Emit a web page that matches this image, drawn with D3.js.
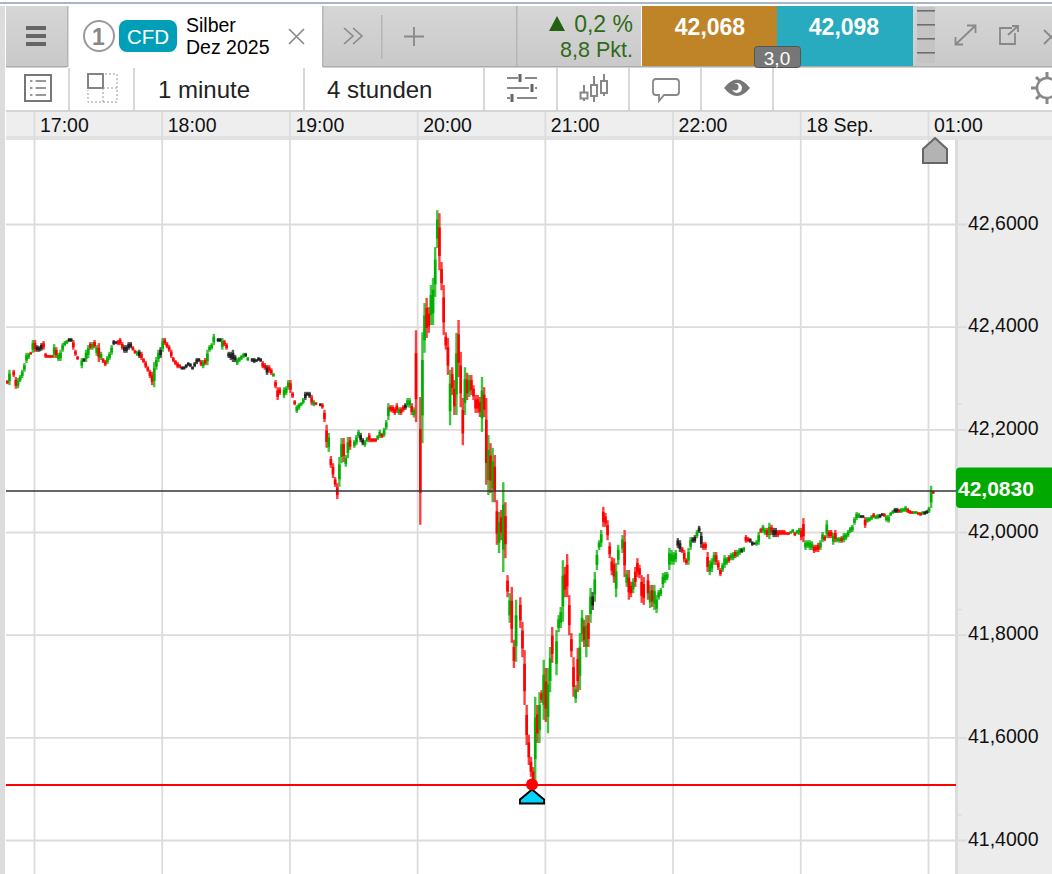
<!DOCTYPE html>
<html>
<head>
<meta charset="utf-8">
<title>Silber Dez 2025</title>
<script src="https://cdn.jsdelivr.net/npm/d3@7"></script>
<style>
  html, body { margin: 0; padding: 0; background: #fff; overflow: hidden; }
  svg { display: block; font-family: "Liberation Sans", Arial, sans-serif; }
  .axis-time path, .axis-time line, .axis-price path, .axis-price line { display: none; }
</style>
</head>
<body>
<div id="chart"></div>
<script>
// one candle per minute, first one is 13 minutes before 17:00
var firstMinute = -13;

var barHighs = [
  42.297,42.317,null,42.317,42.303,42.301,42.307,42.317,42.330,42.350,
  42.350,42.352,42.375,42.375,42.365,42.363,42.369,42.373,42.350,42.346,
  42.346,42.346,42.367,42.361,42.350,42.356,42.369,42.373,42.375,42.379,
  42.379,42.375,42.356,42.344,null,42.340,42.340,42.356,42.365,42.371,
  42.371,42.375,42.365,42.369,42.352,42.340,42.336,42.344,42.352,42.365,
  42.375,42.373,42.375,42.379,42.371,42.365,42.365,42.371,42.371,42.363,
  42.356,42.354,42.356,42.352,42.340,42.334,42.324,42.317,42.313,42.332,
  42.342,42.356,42.361,42.379,42.379,42.371,42.365,42.356,42.342,42.336,
  42.332,42.328,42.324,42.324,42.328,42.332,42.330,42.324,42.332,42.340,
  42.340,42.336,42.336,42.340,42.356,42.365,42.369,42.387,null,42.379,
  42.379,42.379,42.375,42.369,42.352,42.352,42.356,42.346,42.340,42.342,
  42.346,42.350,42.350,42.342,null,42.340,42.340,42.338,42.342,42.340,
  42.334,42.330,42.326,42.326,42.320,42.311,42.297,42.283,42.283,null,
  42.283,42.285,42.297,42.297,42.274,42.258,42.248,42.252,42.254,42.262,
  42.274,42.274,42.274,42.268,42.258,42.254,null,42.252,42.252,42.239,
  42.210,42.194,42.149,42.135,42.108,42.096,42.147,42.184,42.184,42.151,
  42.186,42.186,null,42.180,42.190,42.200,42.194,42.184,42.180,42.186,
  42.194,42.184,42.184,42.184,42.190,42.200,42.194,42.204,42.219,42.252,
  42.248,42.248,42.244,42.252,42.244,42.244,42.248,42.252,42.262,42.262,
  42.252,42.244,42.394,null,42.264,42.390,42.447,42.457,42.439,42.482,
  42.496,42.556,42.628,42.622,42.527,42.482,42.390,42.379,42.317,42.322,
  42.297,42.389,42.414,42.352,42.262,42.322,42.311,42.307,42.307,42.287,
  42.268,42.268,42.264,42.303,42.283,42.262,42.190,42.174,42.165,42.151,
  42.063,42.040,42.044,42.098,42.059,41.917,41.882,41.894,41.791,41.869,
  null,41.874,41.826,41.771,41.664,41.606,41.563,41.543,41.680,41.664,
  41.689,41.693,41.752,41.736,41.736,41.777,41.816,null,41.810,41.839,
  41.855,41.946,41.933,41.958,41.878,41.804,41.757,41.703,41.775,41.804,
  41.849,41.830,41.839,41.839,41.892,41.884,41.923,41.966,41.985,42.005,
  42.050,42.038,42.024,41.981,41.952,41.950,41.941,41.976,null,41.995,
  42.005,41.927,41.927,41.904,41.911,41.933,41.950,41.937,41.917,41.913,
  null,41.919,41.898,41.898,41.898,41.878,41.888,41.892,41.921,41.923,
  41.923,41.970,41.966,41.962,41.966,41.989,41.985,41.972,41.966,41.950,
  41.970,41.991,41.991,41.995,42.005,42.013,42.001,41.981,41.981,41.962,
  41.946,41.950,41.962,41.962,41.946,41.931,41.941,41.956,41.952,41.956,
  41.960,41.962,41.966,41.966,41.970,41.970,41.972,41.995,41.991,41.989,
  41.983,41.981,41.985,42.001,42.009,42.015,42.009,42.009,42.019,42.015,
  42.009,42.009,42.005,42.005,42.005,42.005,42.001,42.001,42.003,42.007,
  42.001,42.005,42.009,42.009,42.028,41.985,41.985,41.985,41.983,41.976,
  41.976,41.980,41.985,42.001,41.995,42.024,42.005,42.005,41.999,42.005,
  41.991,41.991,41.993,41.999,41.999,42.005,42.011,42.015,42.030,42.040,
  42.038,42.034,42.034,42.030,42.030,42.030,42.034,42.038,42.034,42.036,
  42.036,42.038,42.038,42.034,42.034,42.040,42.044,42.048,42.048,42.046,
  42.048,42.048,42.052,42.048,42.044,42.042,42.042,42.042,42.040,42.040,
  42.042,42.042,42.044,42.050,42.091,42.081
];

var barLows = [
  42.289,42.287,null,42.303,42.280,42.281,42.293,42.301,42.313,42.330,
  42.338,42.346,42.350,42.352,42.352,42.352,42.354,42.356,42.340,42.340,
  42.340,42.340,42.340,42.340,42.334,42.334,42.352,42.363,42.367,42.371,
  42.371,42.356,42.344,42.336,null,42.320,42.332,42.332,42.340,42.356,
  42.356,42.359,42.344,42.332,42.336,42.330,42.324,42.328,42.336,42.346,
  42.365,42.367,42.365,42.365,42.356,42.350,42.350,42.356,42.359,42.354,
  42.348,42.344,42.340,42.336,42.330,42.320,42.313,42.301,42.287,42.283,
  42.317,42.332,42.340,42.352,42.365,42.359,42.352,42.340,42.332,42.326,
  42.320,42.320,42.317,42.317,42.320,42.324,42.322,42.317,42.322,42.328,
  42.332,42.324,42.320,42.326,42.326,42.352,42.356,42.365,null,42.371,
  42.371,42.356,42.363,42.356,42.340,42.336,42.332,42.332,42.326,42.332,
  42.336,42.340,42.342,42.334,null,42.332,42.330,42.332,42.334,42.332,
  42.320,42.317,42.307,42.311,42.307,42.303,42.281,42.258,42.268,null,
  42.262,42.268,42.278,42.272,42.262,42.248,42.233,42.239,42.246,42.250,
  42.258,42.266,42.262,42.248,42.246,42.248,null,42.246,42.241,42.215,
  42.165,42.157,42.126,42.106,42.089,42.065,42.089,42.135,42.137,42.128,
  42.145,42.161,null,42.165,42.170,42.184,42.176,42.170,42.167,42.176,
  42.176,42.176,42.176,42.176,42.180,42.184,42.184,42.186,42.200,42.219,
  42.235,42.233,42.229,42.233,42.229,42.229,42.235,42.239,42.244,42.243,
  42.229,42.224,42.215,null,42.015,42.174,42.350,42.379,42.389,42.404,
  42.404,42.459,42.554,42.511,42.472,42.385,42.356,42.307,42.209,42.268,
  42.229,42.229,42.303,42.244,42.170,42.229,42.258,42.264,42.268,42.258,
  42.233,42.233,42.225,42.196,42.225,42.093,42.073,42.077,42.059,42.059,
  41.976,41.960,41.985,41.923,41.950,41.874,41.824,41.785,41.736,41.748,
  null,41.814,41.757,41.664,41.586,41.547,41.524,41.508,41.518,41.590,
  41.590,41.668,41.635,41.631,41.609,41.689,41.746,null,41.722,41.806,
  41.814,41.826,41.874,41.874,41.800,41.757,41.680,41.668,41.689,41.693,
  41.787,41.777,41.757,41.777,41.824,41.849,41.865,41.927,41.966,41.972,
  42.011,42.011,41.985,41.950,41.917,41.902,41.874,41.937,null,41.960,
  41.913,41.894,41.869,41.874,41.882,41.894,41.913,41.911,41.863,41.859,
  null,41.869,41.853,41.855,41.849,41.843,41.869,41.876,41.892,41.902,
  41.907,41.927,41.937,41.937,41.942,41.970,41.962,41.960,41.942,41.937,
  41.937,41.966,41.980,41.980,41.989,41.999,41.970,41.966,41.966,41.923,
  41.917,41.923,41.937,41.937,41.927,41.915,41.923,41.931,41.937,41.941,
  41.946,41.946,41.950,41.952,41.956,41.960,41.962,41.980,41.981,41.980,
  41.974,41.976,41.974,41.976,41.999,41.999,41.995,41.991,41.987,41.995,
  41.991,41.991,41.991,41.995,41.995,41.995,41.995,41.995,41.997,41.999,
  41.993,41.997,41.995,41.985,41.981,41.966,41.970,41.966,41.966,41.960,
  41.962,41.962,41.966,41.981,41.983,41.989,41.989,41.989,41.976,41.981,
  41.981,41.980,41.980,41.981,41.985,41.991,41.999,42.001,42.015,42.024,
  42.028,42.028,42.028,42.009,42.019,42.021,42.024,42.028,42.026,42.026,
  42.028,42.032,42.030,42.021,42.019,42.032,42.036,42.038,42.038,42.038,
  42.038,42.040,42.040,42.038,42.036,42.036,42.036,42.036,42.034,42.032,
  42.034,42.034,42.036,42.038,42.048,42.075
];

// u = closed higher, d = closed lower, f = unchanged, _ = no candle
var barMoves = (
  "du_dduuuuu" + "ududfffddd" + "dduduuuuuf" + "fddd_ufuud" + "udududduuu" +
  "ffdddffffd" + "dufddddddu" + "uufudddddd" + "ddffffffff" + "fduduuuu_f" +
  "fuddffffuu" + "uufu_fffff" + "ddfdduddd_" + "uuuddduuuu" + "fffdud_fdd" +
  "dudddduudu" + "ud_uuuffuu" + "dddduuduuu" + "dddduddfuu" + "dud_duuddu" +
  "uuudddddud" + "dudddududd" + "ddduddudud" + "dududduddu" + "_dddddddud" +
  "ududuud_uu" + "uudddddudu" + "ududufuuuu" + "dddddduu_u" + "dudduddddd" +
  "_duduuuuuu" + "uuuuuffddd" + "uuffuffddd" + "uuuddduuud" + "uuduufuddf" +
  "ffuuduudud" + "ffdddddduu" + "duudduuuud" + "dduududdud" + "uuduuuuuuu" +
  "uffduuuduu" + "ffduuuuffd" + "uuuddduudd" + "uffuud"
).split("");

var hourTicks = [0, 60, 120, 180, 240, 300, 360, 420];
var hourLabels = ["17:00", "18:00", "19:00", "20:00", "21:00", "22:00", "18 Sep.", "01:00"];
var priceTicks = [41.4, 41.6, 41.8, 42.0, 42.2, 42.4, 42.6];
var minorPriceTicks = [41.45, 41.85, 42.25];
var lastPrice = 42.083;
var lowPrice = 41.507;
var lowMinute = 233.5;

var moveColour = {u: "#00b000", d: "#ff0000", f: "#222222"};
var fmtPrice = d3.formatLocale({decimal: ",", thousands: ".", grouping: [3], currency: ["", ""]}).format(".4f");

var svg = d3.select("#chart")
    .append("svg")
    .attr("width", 1052)
    .attr("height", 874);

var defs = svg.append("defs");
function vgrad(id, top, bottom) {
    var g = defs.append("linearGradient").attr("id", id).attr("x1", 0).attr("x2", 0).attr("y1", 0).attr("y2", 1);
    g.append("stop").attr("offset", 0).attr("stop-color", top);
    g.append("stop").attr("offset", 1).attr("stop-color", bottom);
}
vgrad("headGrey", "#d6d6d6", "#c9c9c9");
defs.append("clipPath").attr("id", "plotClip").append("rect")
    .attr("x", 6).attr("y", 140).attr("width", 950).attr("height", 734);

// scales
var x = d3.scaleLinear().domain([0, 420]).range([35, 929]);
var y = d3.scaleLinear().domain([41.4, 42.6]).range([840.5, 224.5]);

// page frame
svg.append("rect").attr("x", 0).attr("y", 2).attr("width", 1052).attr("height", 2).attr("fill", "#a9b5c8");
svg.append("rect").attr("x", 0).attr("y", 6).attr("width", 5).attr("height", 868).attr("fill", "#dcdcdc");

// header row
function headRect(x0, x1, fill) {
    svg.append("rect").attr("x", x0).attr("y", 6).attr("width", x1 - x0).attr("height", 61).attr("fill", fill);
}
headRect(6, 67, "url(#headGrey)");
headRect(323, 516, "url(#headGrey)");
headRect(517, 641, "url(#headGrey)");
headRect(911, 1052, "url(#headGrey)");
svg.append("rect").attr("x", 67).attr("y", 6).attr("width", 1.5).attr("height", 61).attr("fill", "#b5b5b5");
svg.append("rect").attr("x", 322).attr("y", 6).attr("width", 1.5).attr("height", 61).attr("fill", "#b5b5b5");
svg.append("rect").attr("x", 516).attr("y", 6).attr("width", 1.5).attr("height", 61).attr("fill", "#b5b5b5");
svg.append("rect").attr("x", 381).attr("y", 15).attr("width", 1.5).attr("height", 44).attr("fill", "#b5b5b5");
svg.append("rect").attr("x", 6).attr("y", 66).attr("width", 61).attr("height", 1.5).attr("fill", "#aaa");
svg.append("rect").attr("x", 323).attr("y", 66).attr("width", 729).attr("height", 1.5).attr("fill", "#aaa");

// menu icon
[26, 34, 42].forEach(function (t) {
    svg.append("rect").attr("x", 26).attr("y", t).attr("width", 20).attr("height", 4).attr("fill", "#666");
});

function label(txt, px, py, size, fill, weight, anchor) {
    return svg.append("text")
        .attr("x", px).attr("y", py)
        .attr("font-size", size)
        .attr("fill", fill)
        .attr("font-weight", weight || "normal")
        .attr("text-anchor", anchor || "start")
        .attr("dominant-baseline", "central")
        .text(txt);
}

// instrument tab
svg.append("circle").attr("cx", 99).attr("cy", 36).attr("r", 15)
    .attr("fill", "none").attr("stroke", "#999").attr("stroke-width", 2);
label("1", 98.500, 37, 23, "#888", "bold", "middle");
svg.append("rect").attr("x", 119).attr("y", 20).attr("width", 58).attr("height", 32).attr("rx", 8).attr("fill", "#009fb7");
label("CFD", 148, 36, 20.5, "#fff", "normal", "middle");
label("Silber", 186, 25, 19.5, "#000");
label("Dez 2025", 186, 47, 19.5, "#000");
svg.append("path").attr("d", "M289,29L304,44M304,29L289,44").attr("stroke", "#888").attr("stroke-width", 1.6).attr("fill", "none");

// more tabs and plus
svg.append("path").attr("d", "M344,28L353,36L344,44M353,28L362,36L353,44").attr("stroke", "#888").attr("stroke-width", 1.6).attr("fill", "none");
svg.append("path").attr("d", "M414,27V46M404,36.500H424").attr("stroke", "#888").attr("stroke-width", 1.8).attr("fill", "none");

// change box
svg.append("path").attr("d", "M549,31L557,16L565,31Z").attr("fill", "#23600f");
label("0,2 %", 633, 24, 23, "#2f6b17", "normal", "end");
label("8,8 Pkt.", 633, 50, 21.5, "#2f6b17", "normal", "end");

// bid and ask
svg.append("rect").attr("x", 642).attr("y", 6).attr("width", 135).attr("height", 60).attr("fill", "#bf8428");
svg.append("rect").attr("x", 777).attr("y", 6).attr("width", 136).attr("height", 60).attr("fill", "#28abbe");
label("42,068", 710, 27, 23, "#fff", "bold", "middle");
label("42,098", 844, 27, 23, "#fff", "bold", "middle");
svg.append("rect").attr("x", 754.500).attr("y", 46.500).attr("width", 46).attr("height", 21).attr("rx", 3)
    .attr("fill", "#777").attr("stroke", "#555").attr("stroke-width", 1);
label("3,0", 777, 58, 19, "#fff", "normal", "middle");

// stacked lines next to the quotes
[7, 21, 35, 49].forEach(function (t) {
    svg.append("rect").attr("x", 917).attr("y", t).attr("width", 18).attr("height", 14).attr("fill", "#c4c4c4");
    svg.append("rect").attr("x", 917).attr("y", t + 3).attr("width", 18).attr("height", 1.6).attr("fill", "#6e6e6e");
});

// expand, pop out, close
svg.append("path").attr("d", "M955,45L975,26M967,25.500H975.500V33M955.500,37V44.500H963")
    .attr("stroke", "#888").attr("stroke-width", 1.8).attr("fill", "none");
svg.append("path").attr("d", "M1012,28H1000V44H1015V33M1008,35L1018,26M1012,26H1018V32")
    .attr("stroke", "#888").attr("stroke-width", 1.8).attr("fill", "none");
svg.append("path").attr("d", "M1044,30L1058,44M1058,30L1044,44").attr("stroke", "#888").attr("stroke-width", 1.8).attr("fill", "none");

// toolbar
[69, 134, 304, 484, 557, 629, 701, 773].forEach(function (t) {
    svg.append("rect").attr("x", t - 1).attr("y", 68).attr("width", 2).attr("height", 42).attr("fill", "#d8d8d8");
});
svg.append("rect").attr("x", 6).attr("y", 110).attr("width", 1046).attr("height", 2).attr("fill", "#d4d4d4");
label("1 minute", 158, 89, 24, "#222");
label("4 stunden", 327, 89, 24, "#222");

// list icon
svg.append("rect").attr("x", 25).attr("y", 75).attr("width", 26).attr("height", 26)
    .attr("fill", "none").attr("stroke", "#777").attr("stroke-width", 2);
[81, 88, 95].forEach(function (t) {
    svg.append("path").attr("d", "M30," + t + "H32.500M35.500," + t + "H46").attr("stroke", "#777").attr("stroke-width", 1.4);
});

// layout icon
svg.append("rect").attr("x", 88).attr("y", 74).attr("width", 15).attr("height", 14)
    .attr("fill", "none").attr("stroke", "#777").attr("stroke-width", 1.8);
svg.append("path").attr("d", "M105,74H117V102H88V90M103,88V102M103,88H117")
    .attr("fill", "none").attr("stroke", "#999").attr("stroke-width", 1).attr("stroke-dasharray", "2,2");

// sliders icon
svg.append("path").attr("d", "M507,78H518M525,78H537M507,88H529M535,88H537M507,98H510M517,98H537")
    .attr("fill", "none").attr("stroke", "#888").attr("stroke-width", 2);
svg.append("path").attr("d", "M520,74V82M532,84V92M512,94V102").attr("fill", "none").attr("stroke", "#666").attr("stroke-width", 3);

// candles icon
svg.append("path").attr("d", "M584,85V101M594,76V102M604,74V96")
    .attr("fill", "none").attr("stroke", "#888").attr("stroke-width", 2);
svg.append("rect").attr("x", 580.500).attr("y", 92.500).attr("width", 7).attr("height", 6).attr("fill", "#fff").attr("stroke", "#888").attr("stroke-width", 2);
svg.append("rect").attr("x", 591).attr("y", 85).attr("width", 6).attr("height", 11).attr("fill", "#fff").attr("stroke", "#888").attr("stroke-width", 2);
svg.append("rect").attr("x", 601).attr("y", 81).attr("width", 6).attr("height", 12).attr("fill", "#fff").attr("stroke", "#888").attr("stroke-width", 2);

// speech bubble icon
svg.append("path").attr("d", "M656,79H676Q679,79 679,82V92Q679,95 676,95H664L659,101V95H656Q653,95 653,92V82Q653,79 656,79Z")
    .attr("fill", "#fff").attr("stroke", "#888").attr("stroke-width", 1.8);

// eye icon
svg.append("path").attr("d", "M724,88Q737,71 750,88Q737,104 724,88Z").attr("fill", "#777");
svg.append("circle").attr("cx", 737).attr("cy", 88).attr("r", 5).attr("fill", "#fff");
svg.append("circle").attr("cx", 735).attr("cy", 87).attr("r", 3.5).attr("fill", "#777");

// gear icon, cut off by the window
svg.append("circle").attr("cx", 1047).attr("cy", 88).attr("r", 10).attr("fill", "#fff").attr("stroke", "#888").attr("stroke-width", 2.5);
svg.append("path").attr("d", "M1031,88H1037M1036,77L1040,81M1036,99L1040,95M1047,72V78M1047,98V104")
    .attr("stroke", "#888").attr("stroke-width", 3);

// time axis band
svg.append("rect").attr("x", 6).attr("y", 112).attr("width", 1046).attr("height", 24).attr("fill", "#eeeeee");
svg.append("rect").attr("x", 6).attr("y", 136).attr("width", 1046).attr("height", 4).attr("fill", "#e2e2e2");
svg.append("rect").attr("x", 956).attr("y", 140).attr("width", 96).attr("height", 734).attr("fill", "#ececec");
svg.append("rect").attr("x", 955).attr("y", 140).attr("width", 3).attr("height", 734).attr("fill", "#dcdcdc");

// vertical grid
svg.append("g")
    .selectAll("line")
    .data(hourTicks)
    .join("line")
    .attr("x1", function (d) { return x(d) - 0.5; })
    .attr("x2", function (d) { return x(d) - 0.5; })
    .attr("y1", 112)
    .attr("y2", 874)
    .attr("stroke", "#dcdcdc")
    .attr("stroke-width", 1.8);

// horizontal grid
svg.append("g")
    .selectAll("line")
    .data(priceTicks)
    .join("line")
    .attr("x1", 6)
    .attr("x2", 967)
    .attr("y1", function (d) { return y(d); })
    .attr("y2", function (d) { return y(d); })
    .attr("stroke", "#dcdcdc")
    .attr("stroke-width", 1.8);

svg.append("g")
    .selectAll("line")
    .data(minorPriceTicks)
    .join("line")
    .attr("x1", 956)
    .attr("x2", 962)
    .attr("y1", function (d) { return y(d); })
    .attr("y2", function (d) { return y(d); })
    .attr("stroke", "#dcdcdc")
    .attr("stroke-width", 1.5);

// time axis labels
var timeAxis = svg.append("g")
    .attr("class", "axis-time")
    .attr("transform", "translate(0,125)")
    .call(d3.axisTop(x)
        .tickValues(hourTicks)
        .tickFormat(function (d, i) { return hourLabels[i]; })
        .tickSize(0)
        .tickPadding(0));
timeAxis.selectAll("text")
    .attr("x", 4.5)
    .attr("y", 0)
    .attr("dy", "0.35em")
    .attr("text-anchor", "start")
    .attr("font-size", 19.5)
    .attr("font-family", "Liberation Sans")
    .attr("fill", "#111");

// price axis labels, they sit a little above their grid line
var priceAxis = svg.append("g")
    .attr("class", "axis-price")
    .attr("transform", "translate(968,-1.5)")
    .call(d3.axisRight(y)
        .tickValues(priceTicks)
        .tickFormat(fmtPrice)
        .tickSize(0)
        .tickPadding(0));
priceAxis.selectAll("text")
    .attr("x", 0)
    .attr("font-size", 19.5)
    .attr("font-family", "Liberation Sans")
    .attr("fill", "#111");

// candles
var candles = [];
barHighs.forEach(function (h, i) {
    if (h !== null) {
        candles.push({minute: firstMinute + i, high: h, low: barLows[i], move: barMoves[i]});
    }
});

var plot = svg.append("g").attr("clip-path", "url(#plotClip)");

plot.selectAll("line.wick")
    .data(candles)
    .join("line")
    .attr("class", "wick")
    .attr("x1", function (d) { return x(d.minute); })
    .attr("x2", function (d) { return x(d.minute); })
    .attr("y1", function (d) { return y(d.high); })
    .attr("y2", function (d) { return y(d.low); })
    .attr("stroke", function (d) { return moveColour[d.move]; })
    .attr("stroke-opacity", 0.75)
    .attr("stroke-width", 2.4);

// darker middle of every candle
plot.selectAll("line.body")
    .data(candles)
    .join("line")
    .attr("class", "body")
    .attr("x1", function (d) { return x(d.minute); })
    .attr("x2", function (d) { return x(d.minute); })
    .attr("y1", function (d) { return y(d.low + (d.high - d.low) * 0.75); })
    .attr("y2", function (d) { return y(d.low + (d.high - d.low) * 0.25); })
    .attr("stroke", function (d) { return moveColour[d.move]; })
    .attr("stroke-width", 2.6);

// last price line and label
plot.append("line")
    .attr("x1", 6)
    .attr("x2", 956)
    .attr("y1", Math.ceil(y(lastPrice)) + 1)
    .attr("y2", Math.ceil(y(lastPrice)) + 1)
    .attr("stroke", "#333")
    .attr("stroke-width", 1.6);
svg.append("path").attr("d", "M1052,467.500H960Q956,467.500 956,471.500V504Q956,508 960,508H1052Z").attr("fill", "#00a800");
label(fmtPrice(lastPrice), 958, 488, 21, "#fff", "bold");

// session low line and marker
plot.append("line")
    .attr("x1", 6)
    .attr("x2", 956)
    .attr("y1", y(lowPrice) - 0.5)
    .attr("y2", y(lowPrice) - 0.5)
    .attr("stroke", "#ff0000")
    .attr("stroke-width", 2);
svg.append("path")
    .attr("transform", "translate(" + x(lowMinute) + "," + y(lowPrice) + ")")
    .attr("d", "M0,4L12,14V18H-12V14Z")
    .attr("fill", "#00d4ff")
    .attr("stroke", "#000")
    .attr("stroke-width", 2);
svg.append("circle")
    .attr("cx", x(lowMinute))
    .attr("cy", y(lowPrice) - 1)
    .attr("r", 6)
    .attr("fill", "#ff0000");

// go to last candle marker
svg.append("path")
    .attr("d", "M935,138L947,149V163H923V149Z")
    .attr("fill", "#b3b3b3")
    .attr("stroke", "#666")
    .attr("stroke-width", 2);
</script>
</body>
</html>
